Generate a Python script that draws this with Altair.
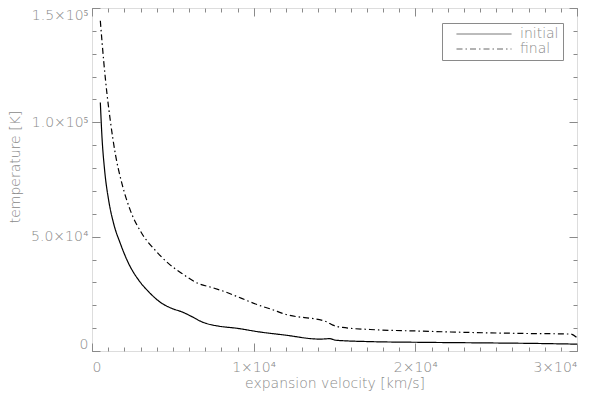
import altair as alt
import pandas as pd

# ---- data ----
v_initial = [515, 618, 783, 1031, 1340, 1753, 2268, 2887, 3505, 4330, 4948, 5567, 6268, 6783,
             7300, 7815, 9000, 10300, 11900, 14100, 14700, 15100, 17200, 20300, 23400, 27500, 30000]
T_initial = [108700, 93500, 78900, 65900, 55700, 47000, 38200, 31000, 25900, 20800, 18600, 17100,
             14700, 12800, 11600, 10900, 9900, 8400, 7000, 5200, 5400, 4700, 4100, 3800, 3600,
             3300, 3000]

v_final = [515, 722, 928, 1134, 1443, 1856, 2371, 3093, 3918, 4742, 5567, 6577, 7402, 8227,
           9258, 10290, 11110, 11940, 14500, 14900, 15500, 17200, 20300, 23400, 26500, 29600, 30000]
T_final = [144400, 126900, 112400, 100700, 86200, 73100, 61500, 51300, 44000, 38200, 33900, 29500,
           27800, 25900, 23000, 20100, 18200, 16100, 12800, 11300, 10300, 9400, 8700, 8100, 7700,
           7400, 5800]

series_names = ["initial", "final"]

x_major = [0, 10000, 20000, 30000]
x_major_labels = ["0", "1×10⁴", "2×10⁴", "3×10⁴"]
x_minor = [i * 1000 for i in range(31)]
y_major = [0, 50000, 100000, 150000]
y_major_labels = ["0", "5.0×10⁴", "1.0×10⁵", "1.5×10⁵"]
y_minor = [i * 10000 for i in range(16)]

rows = []
for v, t in zip(v_initial, T_initial):
    rows.append({"v": v, "T": t, "series": series_names[0]})
for v, t in zip(v_final, T_final):
    rows.append({"v": v, "T": t, "series": series_names[1]})
df = pd.DataFrame(rows)

W, H = 485, 343
GRAY = "#8a8a8a"
FONT = "DejaVu Sans"


def label_expr(vals, labels):
    expr = "''"
    for v, l in reversed(list(zip(vals, labels))):
        expr = f"datum.value == {v} ? '{l}' : ({expr})"
    return expr


xs = alt.Scale(domain=[0, 30000], nice=False, zero=False)
ys = alt.Scale(domain=[0, 150000], nice=False, zero=False)


def tick_axis(orient, values, size, offset):
    return alt.Axis(orient=orient, values=values, tickSize=size, offset=offset,
                    labels=False, domain=False, title=None, ticks=True,
                    tickColor=GRAY, tickWidth=1, grid=False)


x_main_axis = alt.Axis(orient="bottom", values=x_major, ticks=False, domain=False, grid=False,
                       labelExpr=label_expr(x_major, x_major_labels), labelPadding=9,
                       labelFont=FONT, labelFontSize=14, labelColor=GRAY, labelFontWeight=200,
                       labelBaseline="top",
                       title="expansion velocity [km/s]", titleFont=FONT, titleFontSize=14,
                       titleFontWeight=200, titleColor=GRAY, titleY=32, titleBaseline="middle")
y_main_axis = alt.Axis(orient="left", values=y_major, ticks=False, domain=False, grid=False,
                       labelExpr=label_expr(y_major, y_major_labels), labelPadding=4,
                       labelFlush=True,
                       labelFont=FONT, labelFontSize=14, labelColor=GRAY, labelFontWeight=200,
                       title="temperature [K]", titleFont=FONT, titleFontSize=14,
                       titleFontWeight=200, titleColor=GRAY, titleX=-77, titleY=H / 2 - 13,
                       titleBaseline="middle")

lines = alt.Chart(df).mark_line(color="black", strokeWidth=1.2, interpolate="monotone").encode(
    x=alt.X("v:Q", scale=xs, axis=x_main_axis),
    y=alt.Y("T:Q", scale=ys, axis=y_main_axis),
    strokeDash=alt.StrokeDash(
        "series:N",
        scale=alt.Scale(domain=series_names, range=[[1, 0], [6, 3, 1.5, 3]]),
        legend=alt.Legend(
            title=None, orient="none", legendX=350, legendY=15,
            symbolType="M-5,0H5", symbolSize=121, symbolOffset=31, labelOffset=29,
            symbolStrokeWidth=1, symbolStrokeColor="#666666",
            labelFont=FONT, labelFontSize=14, labelColor=GRAY, labelFontWeight=200,
            padding=4, strokeColor=GRAY, fillColor="white", cornerRadius=0,
            rowPadding=1,
        ),
    ),
    order="v:Q",
    detail="series:N",
)


def tick_layer(xaxis, yaxis):
    return alt.Chart(df).mark_point(opacity=0).encode(
        x=alt.X("v:Q", scale=xs, axis=xaxis),
        y=alt.Y("T:Q", scale=ys, axis=yaxis),
    )


layers = [
    lines,
    tick_layer(tick_axis("top", x_major, 8, -H), tick_axis("right", y_major, 8, -W)),
    tick_layer(tick_axis("top", x_minor, 4, -H), tick_axis("right", y_minor, 4, -W)),
    tick_layer(tick_axis("bottom", x_major, 8, -H), tick_axis("left", y_major, 8, -W)),
    tick_layer(tick_axis("bottom", x_minor, 4, -H), tick_axis("left", y_minor, 4, -W)),
]

chart = alt.layer(*layers).properties(
    width=W, height=H,
    autosize=alt.AutoSizeParams(type="none"),
    padding={"left": 84, "top": 0, "right": 15, "bottom": 46},
).configure_view(stroke=GRAY, strokeWidth=1).configure(background="white")

chart.save("out.html", embed_options={"renderer": "svg", "actions": False})
